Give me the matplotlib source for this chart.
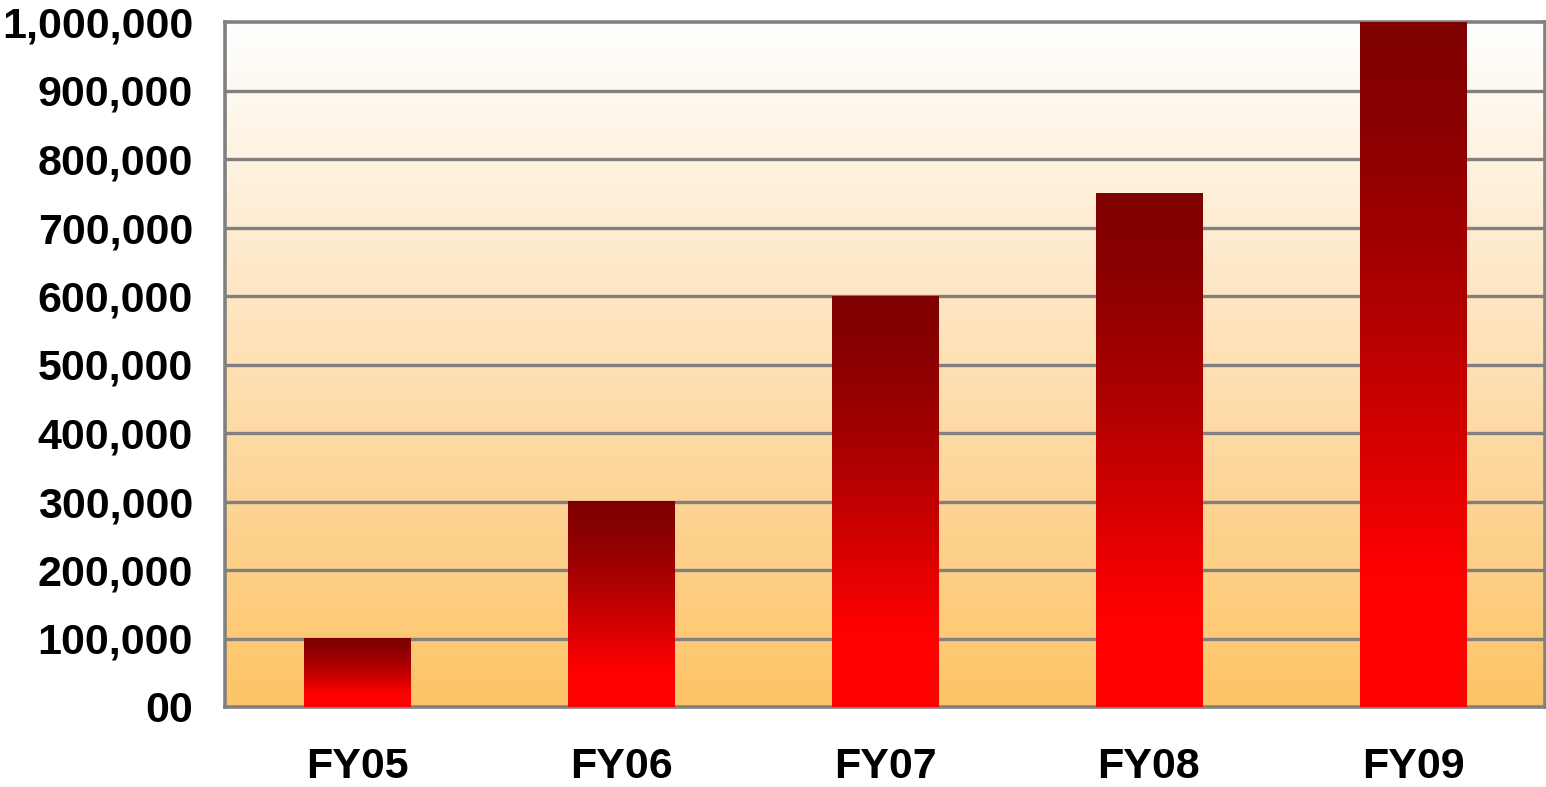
import numpy as np
import matplotlib
matplotlib.use("Agg")
import matplotlib.pyplot as plt
from matplotlib.colors import LinearSegmentedColormap
from matplotlib.ticker import FuncFormatter

years = ["FY05", "FY06", "FY07", "FY08", "FY09"]
values = [100000, 300000, 600000, 750000, 1000000]
y_ticks = [0, 100000, 200000, 300000, 400000, 500000, 600000, 700000, 800000, 900000, 1000000]

plt.rcParams["font.family"] = ["Liberation Sans", "DejaVu Sans"]

fig = plt.figure(figsize=(15.46, 7.87), dpi=100)
ax = fig.add_axes([225 / 1546, 80 / 787, 1320 / 1546, 685 / 787])

ax.set_xlim(-0.5, len(years) - 0.5)
ax.set_ylim(0, 1000000)

# background: white at top fading to orange at bottom
bg_cmap = LinearSegmentedColormap.from_list("bg", ["#fdc466", "#fee0b4", "#ffffff"])
grad = np.linspace(0, 1, 256).reshape(-1, 1)
ax.imshow(grad, cmap=bg_cmap, origin="lower", aspect="auto",
          extent=(-0.5, len(years) - 0.5, 0, 1000000), zorder=0)

# gridlines
for t in y_ticks[1:-1]:
    ax.axhline(t, color="#808080", lw=2.4, zorder=1)

# bars with a vertical red gradient (dark top -> bright red at the bottom)
bar_cmap = LinearSegmentedColormap.from_list(
    "bar", [(0.0, "#ff0000"), (0.18, "#ff0000"), (0.6, "#ad0000"),
            (0.85, "#8a0000"), (1.0, "#7f0000")])
bars = ax.bar(range(len(years)), values, width=0.405, color="none", zorder=4)
for b in bars:
    x0, w, h = b.get_x(), b.get_width(), b.get_height()
    ax.imshow(grad, cmap=bar_cmap, origin="lower", aspect="auto",
              extent=(x0, x0 + w, 0, h), zorder=4)

ax.set_xlim(-0.5, len(years) - 0.5)
ax.set_ylim(0, 1000000)

for s in ax.spines.values():
    s.set_color("#808080")
    s.set_linewidth(2.6)
    s.set_zorder(3)

ax.set_xticks(range(len(years)))
ax.set_xticklabels(years)
ax.set_yticks(y_ticks)
ax.yaxis.set_major_formatter(FuncFormatter(lambda v, p: "00" if v == 0 else f"{int(v):,}"))
ax.tick_params(axis="both", length=0, labelsize=31)
ax.tick_params(axis="y", pad=23)
ax.tick_params(axis="x", pad=29)
for lbl in ax.get_xticklabels() + ax.get_yticklabels():
    lbl.set_fontweight("bold")

fig.savefig("out.png", dpi=100)
